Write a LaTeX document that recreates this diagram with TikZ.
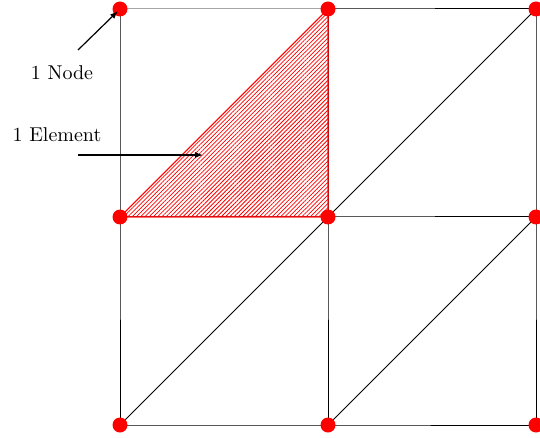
\documentclass[tikz,border=0pt]{standalone}
\usetikzlibrary{patterns.meta,arrows.meta}
\begin{document}
\begin{tikzpicture}[x=0.5pt,y=-0.5pt,
  pt/.style={circle,fill=red,inner sep=0pt,minimum size=7.5pt},
  edge/.style={black,line width=0.5pt},
  elem/.style={draw=red,line width=0.5pt,pattern={Lines[angle=45,distance=1.5pt,line width=0.4pt]},pattern color=red},
  arr/.style={-{Latex[length=4pt,width=3pt]},line width=0.6pt},
  lab/.style={inner sep=1pt}]
\useasboundingbox (0,0) rectangle (540,438);
\coordinate (a1) at (120,9);
\coordinate (a2) at (328,9);
\coordinate (a3) at (536,9);
\coordinate (b1) at (120,217);
\coordinate (b2) at (328,217);
\coordinate (b3) at (536,217);
\coordinate (c1) at (120,425);
\coordinate (c2) at (328,425);
\coordinate (c3) at (536,425);
% element
\path[elem] (b1) -- (a2) -- (b2) -- cycle;
% grid lines
\draw[edge] (a1) -- (a2) -- (a3);
\draw[edge] (b1) -- (b2) -- (b3);
\draw[edge] (c1) -- (c2) -- (c3);
\draw[edge] (a1) -- (b1) -- (c1);
\draw[edge] (a2) -- (b2) -- (c2);
\draw[edge] (a3) -- (b3) -- (c3);
\draw[edge] (b2) -- (a3);
\draw[edge] (c1) -- (b2);
\draw[edge] (c2) -- (b3);
\draw[red,line width=0.5pt] (b1) -- (a2) -- (b2) -- cycle;
% nodes
\foreach \p in {a1,a2,a3,b1,b2,b3,c1,c2,c3}{
  \node[pt] (n\p) at (\p) {};
}
% labels
\node[lab] (lnode) at (62,73) {1 Node};
\node[lab] (lelem) at (57,135) {1 Element};
\coordinate (s1) at (78,50);
\coordinate (e1) at (118,11);
\coordinate (s2) at (78,155);
\coordinate (e2) at (203,155);
\draw[arr] (s1) -- (e1);
\draw[arr] (s2) -- (e2);
\end{tikzpicture}
\end{document}
